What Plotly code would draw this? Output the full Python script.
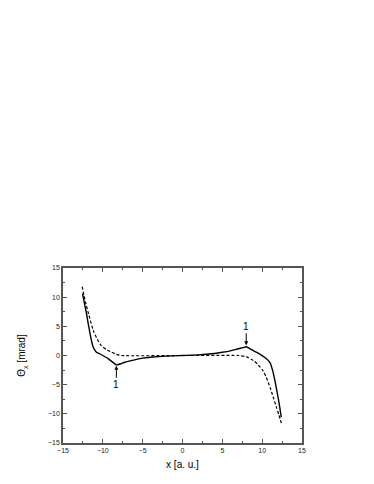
import plotly.graph_objects as go

# Solid curve
x_solid = [-12.55, -12.3, -12.05, -11.8, -11.6, -11.4, -11.2, -11.0, -10.8, -10.4, -10.0, -9.3, -8.8, -8.3,
           -7.8, -7.24, -6.0, -5.0, -4.0, -2.0, 0.0, 2.0, 4.0, 5.0, 6.0, 7.0, 7.6, 8.0, 8.5, 9.0, 9.7,
           10.3, 10.95, 11.3, 11.6, 12.0, 12.2, 12.4]
y_solid = [10.6, 8.9, 7.2, 5.2, 3.7, 2.4, 1.4, 0.9, 0.57, 0.3, 0.0, -0.57, -1.1, -1.6,
           -1.45, -1.15, -0.74, -0.45, -0.3, -0.1, 0.0, 0.1, 0.35, 0.55, 0.8, 1.15, 1.35, 1.5, 1.15, 0.75, 0.25,
           -0.3, -1.15, -2.5, -4.3, -7.2, -8.8, -10.6]

# Dashed curve
x_dash = [-12.6, -12.2, -11.8, -11.2, -10.7, -10.2, -9.5, -8.9, -8.3, -7.65, 0.0,
          7.0, 8.0, 8.9, 9.5, 10.1, 10.5, 11.0, 11.4, 11.8, 12.1, 12.45]
y_dash = [11.8, 9.3, 7.2, 4.3, 2.8, 1.7, 1.0, 0.57, 0.2, 0.0, 0.0,
          0.0, -0.2, -0.86, -1.6, -2.6, -3.7, -5.5, -7.2, -8.9, -10.2, -11.8]

# Arrow markers "1"
arrow_x = [-8.3, 8.0]
arrow_y = [-1.75, 1.75]
arrow_labels = ["1", "1"]

fig = go.Figure()
fig.add_trace(go.Scatter(x=x_solid, y=y_solid, mode="lines",
                         line=dict(color="black", width=1.4, shape="spline", smoothing=0.6),
                         showlegend=False))
fig.add_trace(go.Scatter(x=x_dash, y=y_dash, mode="lines",
                         line=dict(color="black", width=1.2, dash="3px,2px", shape="spline", smoothing=0.6),
                         showlegend=False))

for xa, ya, lab in zip(arrow_x, arrow_y, arrow_labels):
    up = ya < 0
    fig.add_annotation(x=xa, y=ya, xref="x", yref="y", text=lab, showarrow=True,
                       arrowhead=2, arrowsize=0.8, arrowwidth=1, arrowcolor="black",
                       ax=0, ay=(19 if up else -19),
                       font=dict(family="Liberation Sans, Arial", size=10, color="black"))

axis_common = dict(showline=True, linecolor="#555", linewidth=1.5, mirror="ticks",
                   ticks="inside", ticklen=4, tickwidth=1, tickcolor="#555",
                   showgrid=False, zeroline=False, automargin=False,
                   tickfont=dict(family="Liberation Sans, Arial", size=7, color="#222"),
                   minor=dict(ticks="inside", ticklen=2, tickcolor="#555", showgrid=False))

fig.update_xaxes(range=[-15, 15], dtick=5, tick0=-15,
                 title=dict(text="x [a. u.]", font=dict(family="Liberation Sans, Arial", size=10, color="black"),
                            standoff=8),
                 minor_dtick=2.5, **axis_common)
fig.update_yaxes(range=[-15, 15], dtick=5, tick0=-15,
                 title=dict(text="Θ<sub>x</sub> [mrad]", font=dict(family="Liberation Sans, Arial", size=10, color="black"),
                            standoff=20),
                 minor_dtick=2.5, **axis_common)

fig.update_layout(width=374, height=484, margin=dict(l=55, r=80, t=260, b=49),
                  plot_bgcolor="white", paper_bgcolor="white", showlegend=False)

fig.write_html("out.html")
